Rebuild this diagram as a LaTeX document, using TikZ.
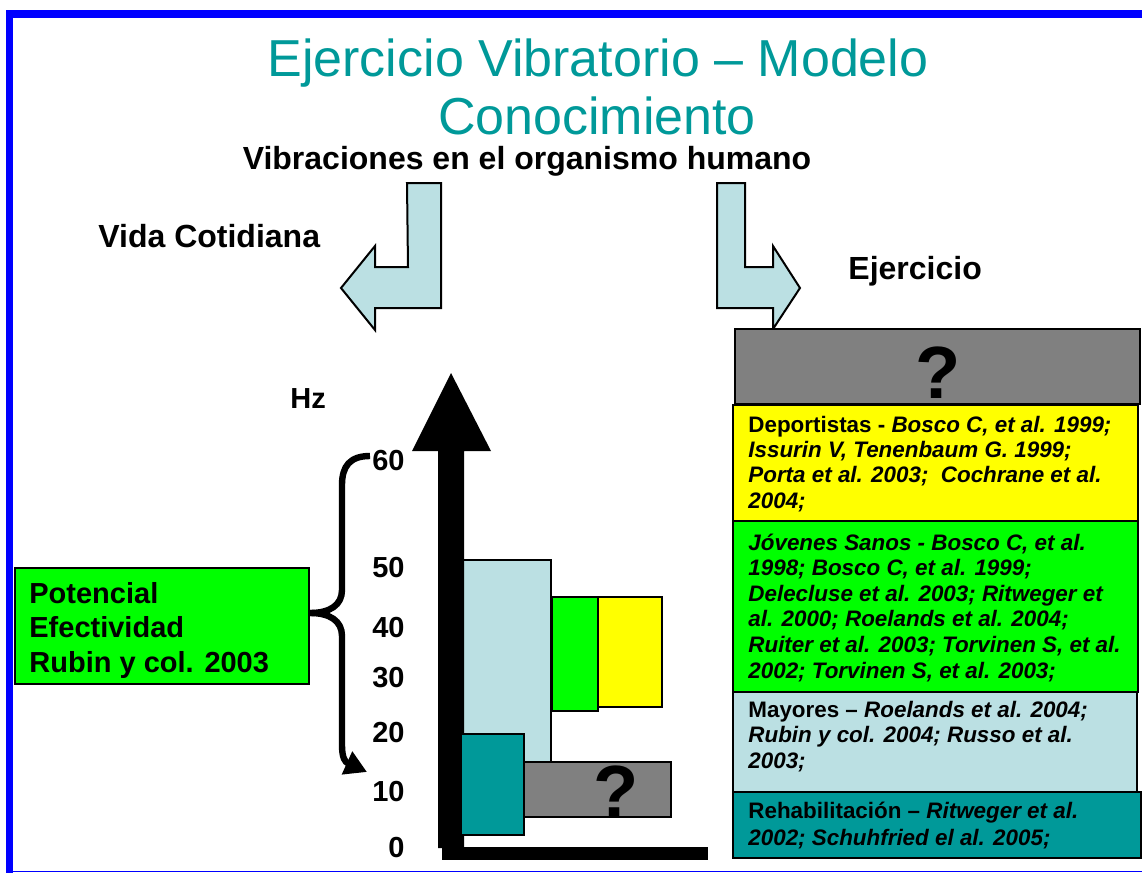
\documentclass[tikz,border=0pt]{standalone}
\usepackage{fontspec}
\setmainfont{Liberation Sans}
\usepackage{xcolor}
\usepackage{tikz}
\usetikzlibrary{arrows.meta}
\definecolor{titleteal}{RGB}{0,153,153}
\definecolor{paleblue}{RGB}{187,224,227}
\definecolor{vgreen}{RGB}{0,255,0}
\definecolor{vyellow}{RGB}{255,255,0}
\definecolor{vgray}{RGB}{128,128,128}
\definecolor{vteal}{RGB}{0,153,153}
\definecolor{frameblue}{RGB}{0,0,255}
\tikzstyle{box} = [draw=black, line width=1pt]
\tikzstyle{turn} = [draw=black, fill=paleblue, line width=1pt, line join=miter]
\tikzstyle{heading} = [inner sep=0pt, font=\fontsize{16}{19}\selectfont\bfseries]
\tikzstyle{tick} = [anchor=base east, inner sep=0pt, font=\fontsize{14.5}{17}\selectfont\bfseries]
\tikzstyle{ref} = [anchor=base west, align=left, inner sep=0pt, font=\fontsize{11.2}{12.65}\selectfont\bfseries]
\tikzstyle{qmark} = [anchor=base, inner sep=0pt, font=\fontsize{37}{40}\selectfont\bfseries]

\begin{document}
\begin{tikzpicture}[x=0.5pt,y=-0.5pt]
    \useasboundingbox (0,0) rectangle (1142,873);
    % frame
    \fill[frameblue] (6,10) rectangle (1142,18);
    \fill[frameblue] (6,10) rectangle (13,873);
    \fill[frameblue] (6,870.5) rectangle (1142,872);
    % titles
    \node[anchor=base, inner sep=0pt, text=titleteal, font=\fontsize{26}{29}\selectfont] (title1) at (598,76) {Ejercicio Vibratorio – Modelo};
    \node[anchor=base, inner sep=0pt, text=titleteal, font=\fontsize{26}{29}\selectfont] (title2) at (597,134) {Conocimiento};
    \node[heading, anchor=base] (vib) at (527,169) {Vibraciones en el organismo humano};
    \node[heading, anchor=base west] (vida) at (98,247) {Vida Cotidiana};
    \node[heading, anchor=base west] (ejer) at (848,279) {Ejercicio};
    % bent arrows
    \draw[turn] (407,183) -- (441,183) -- (441,308) -- (375,308) -- (375,330) -- (341,288)
        -- (375,246) -- (375,267) -- (408,267) -- cycle;
    \draw[turn] (717,183) -- (745,183) -- (745,267) -- (773,267) -- (773,246) -- (800,288)
        -- (773,329) -- (773,308) -- (717,308) -- cycle;
    % bars
    \draw[box, fill=paleblue] (463,560) rectangle (551,762);
    \draw[box, fill=vgray] (524,762) rectangle (671,817);
    \node[qmark] (q1) at (616,817) {?};
    \draw[box, fill=vgreen] (552,597) rectangle (598,711);
    \draw[box, fill=vyellow] (598,597) rectangle (662,707);
    % Y axis
    \fill (438,848) -- (438,451) -- (412,451) -- (451,373) -- (491,451) -- (464,451) -- (464,848) -- cycle;
    % X axis
    \fill (442,847) rectangle (708,860);
    \draw[box, fill=vteal] (461,734) rectangle (524,835);
    \node[tick, anchor=base west] (hz) at (290,408) {Hz};
    \foreach \v/\y in {60/470.5,50/577,40/637,30/687,20/742,10/801,0/857}
        \node[tick] (t\v) at (405,\y) {\v};
    % range brace
    \draw[box, fill=vgreen] (15,568) rectangle (309,684);
    \node[anchor=base west, align=left, inner sep=0pt, font=\fontsize{14.5}{17.25}\selectfont\bfseries] (pot) at (29,672) {Potencial\\Efectividad\\Rubin y col. 2003};
    \coordinate (brtip) at (310,613);
    \draw[line width=3.2pt] (370,456) .. controls (350,456) and (342,466) .. (342,485) -- (342,590)
        .. controls (342,605) and (330,613) .. (brtip);
    \draw[line width=3.2pt, -{Triangle[length=11pt,width=12pt]}] (brtip) .. controls (330,613) and (342,621) .. (342,636)
        -- (342,745) .. controls (342,758) and (345,762) .. (367,772);
    % Ejercicio
    \draw[box, fill=vgray] (735,329) rectangle (1140,404);
    \node[qmark] (q2) at (938,398) {?};
    \draw[box, fill=vyellow] (733,405) rectangle (1138,521);
    \node[ref] (dep) at (748,508) {Deportistas - {\itshape Bosco C, et al. 1999;}\\{\itshape Issurin V, Tenenbaum G. 1999;}\\{\itshape Porta et al. 2003;\ \ Cochrane et al.}\\{\itshape 2004;}};
    \draw[box, fill=vgreen] (733,521) rectangle (1138,692);
    \node[ref, font=\fontsize{11.2}{12.8}\selectfont\bfseries\itshape] (jov) at (748,678) {Jóvenes Sanos - Bosco C, et al.\\1998; Bosco C, et al. 1999;\\Delecluse et al. 2003; Ritweger et\\al. 2000; Roelands et al. 2004;\\Ruiter et al. 2003; Torvinen S, et al.\\2002; Torvinen S, et al. 2003;};
    \draw[box, fill=paleblue] (733,692) rectangle (1137,792);
    \node[ref] (may) at (748,768) {Mayores – {\itshape Roelands et al. 2004;}\\{\itshape Rubin y col. 2004; Russo et al.}\\{\itshape 2003;}};
    \draw[box, fill=vteal] (733,792) rectangle (1141,858);
    \node[ref, font=\fontsize{11.2}{13.3}\selectfont\bfseries] (reh) at (748,845) {Rehabilitación – {\itshape Ritweger et al.}\\{\itshape 2002; Schuhfried el al. 2005;}};
\end{tikzpicture}
\end{document}
